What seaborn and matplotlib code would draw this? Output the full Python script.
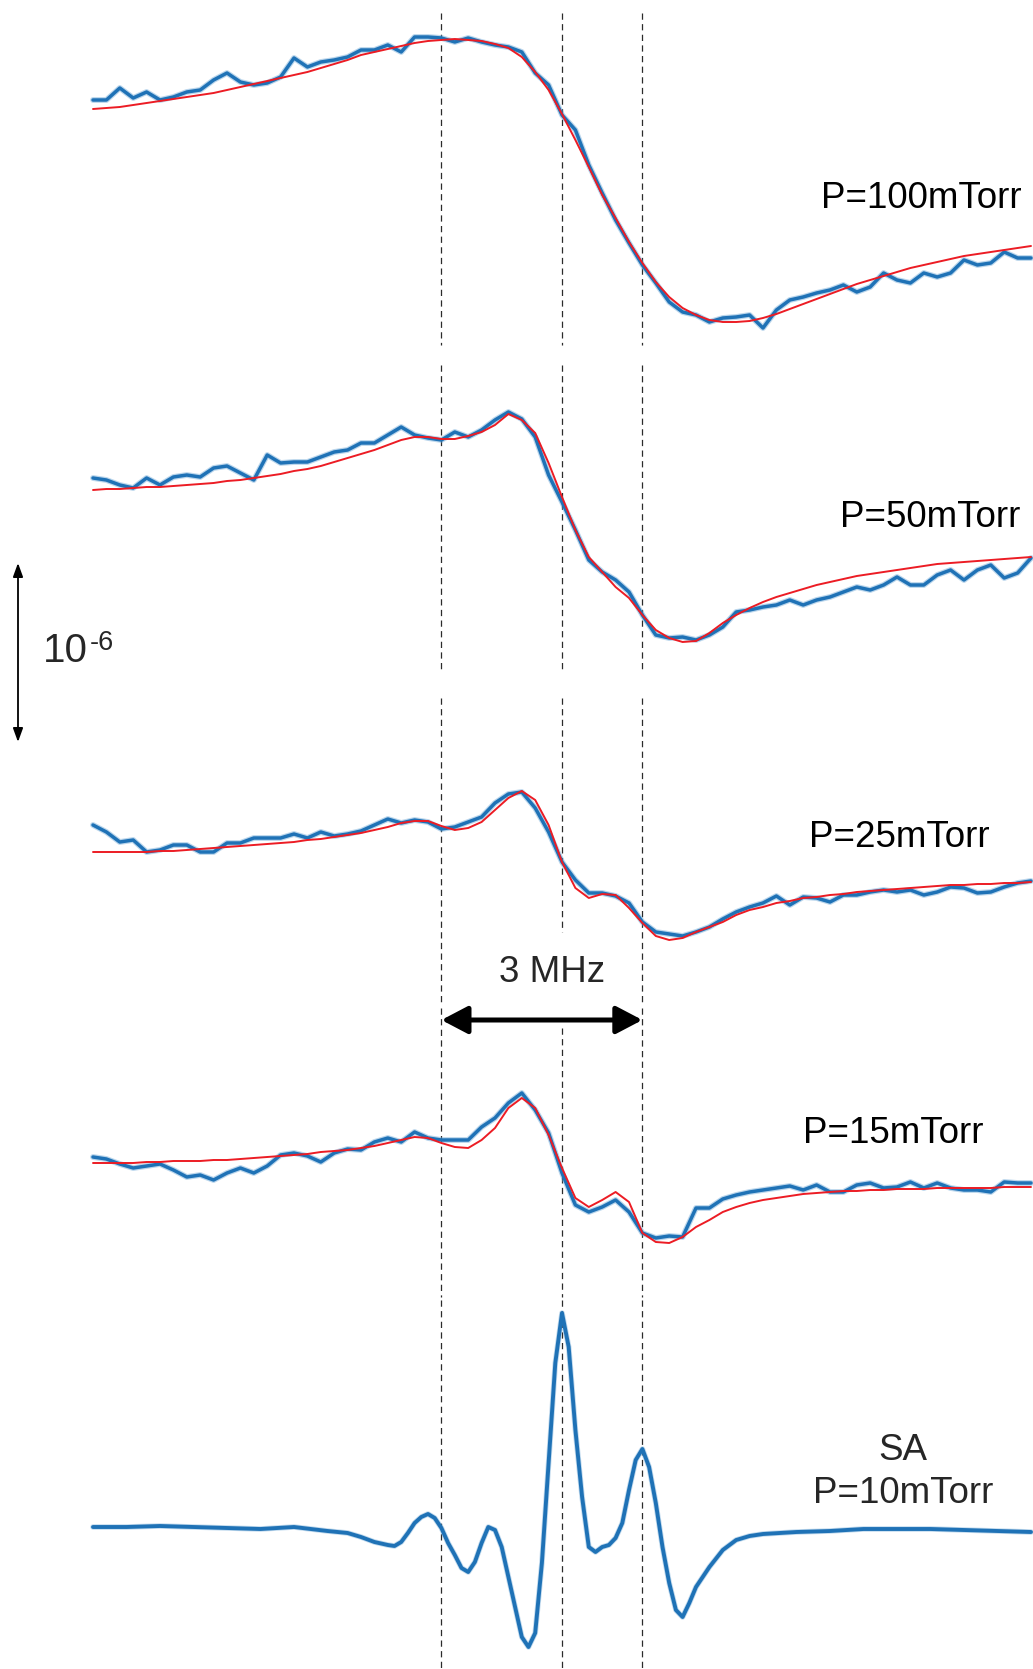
import numpy as np
import matplotlib
matplotlib.use("Agg")
import matplotlib.pyplot as plt
import seaborn as sns

# ---------------- data (signal in a.u.; scale bar 10^-6 = 179 a.u.) ----------------
freq = np.round(np.linspace(-7.0, 7.0, 71), 1)          # detuning, MHz

p100_data = [240, 240, 252, 242, 248, 240, 243, 248, 250, 260,
             267, 258, 255, 257, 263, 282, 273, 278, 280, 283,
             290, 290, 295, 288, 303, 303, 302, 298, 302, 298,
             295, 293, 288, 267, 255,
             225,
             210, 175, 147, 120, 97, 75, 57, 38, 28, 25,
             18, 22, 23, 25, 12, 30, 40, 43, 47, 50,
             55, 48, 53, 67, 60, 57, 67, 63, 67, 80,
             75, 77, 88, 82, 82]
p100_fit = [231, 232, 233, 235, 237, 239, 241, 243, 245, 247,
            250, 253, 256, 259, 262, 265, 268, 272, 276, 280,
            285, 288, 291, 294, 297, 299, 300, 301, 300, 299,
            296, 292, 283, 268, 250,
            226,
            200, 173, 145, 122, 98, 77, 58, 43, 32, 25,
            20, 18, 18, 19, 22, 26, 31, 36, 41, 46,
            51, 56, 60, 64, 68, 72, 75, 78, 81, 84,
            86, 88, 90, 92, 94]

p50_data = [182, 180, 175, 172, 182, 175, 183, 185, 183, 192,
            194, 187, 180, 205, 197, 198, 198, 203, 208, 210,
            217, 217, 225, 233, 225, 222, 220, 228, 223, 230,
            240, 248, 241, 223, 185,
            158,
            130, 100, 88, 80, 68, 45, 25, 22, 23, 20,
            25, 33, 48, 50, 53, 55, 60, 55, 60, 63,
            68, 73, 70, 75, 83, 75, 75, 85, 90, 80,
            90, 95, 82, 87, 102]
p50_fit = [170, 171, 171, 172, 173, 173, 174, 175, 176, 177,
           179, 180, 182, 184, 186, 189, 191, 194, 198, 202,
           206, 210, 215, 220, 223, 223, 221, 221, 224, 228,
           235, 246, 240, 227, 197,
           163,
           130, 103, 88, 73, 62, 45, 30, 22, 18, 19,
           27, 37, 45, 52, 58, 63, 67, 71, 75, 78,
           81, 84, 86, 88, 90, 92, 94, 96, 97, 98,
           99, 100, 101, 102, 103]

p25_data = [135, 128, 118, 120, 108, 110, 115, 115, 108, 108,
            117, 117, 122, 122, 122, 126, 122, 128, 124, 126,
            129, 135, 141, 137, 140, 138, 131, 133, 138, 143,
            157, 166, 168, 152, 128,
            98,
            80, 67, 67, 64, 57, 38, 28, 26, 24, 28,
            33, 41, 48, 53, 57, 64, 55, 63, 62, 58,
            65, 65, 68, 70, 68, 70, 65, 68, 73, 72,
            67, 68, 73, 77, 79]
p25_fit = [108, 108, 108, 108, 108, 109, 109, 110, 111, 112,
           113, 114, 115, 116, 117, 118, 120, 121, 123, 125,
           127, 130, 133, 137, 139, 139, 134, 130, 132, 138,
           150, 162, 169, 160, 135,
           98,
           72, 62, 66, 65, 52, 37, 24, 20, 22, 28,
           33, 38, 45, 50, 53, 57, 59, 62, 63, 65,
           66, 68, 69, 70, 71, 72, 73, 74, 75, 75,
           76, 76, 77, 77, 78]

p15_data = [103, 101, 96, 92, 94, 96, 90, 83, 85, 80,
            87, 92, 87, 94, 105, 107, 104, 98, 107, 111,
            110, 118, 122, 118, 128, 122, 120, 120, 120, 133,
            142, 157, 167, 150, 127,
            87,
            55, 48, 53, 60, 48, 27, 22, 24, 23, 52,
            52, 61, 65, 68, 70, 72, 74, 70, 75, 68,
            68, 75, 77, 72, 73, 78, 72, 77, 72, 70,
            70, 68, 78, 77, 77]
p15_fit = [97, 97, 97, 97, 98, 98, 99, 99, 99, 100,
           100, 101, 102, 103, 104, 105, 106, 108, 109, 110,
           112, 114, 117, 120, 123, 122, 117, 113, 112, 120,
           132, 152, 162, 152, 125,
           92,
           62, 53, 60, 68, 58, 27, 18, 17, 23, 33,
           40, 48, 53, 57, 60, 62, 64, 66, 67, 68,
           69, 69, 70, 70, 71, 71, 71, 72, 72, 72,
           72, 72, 73, 73, 73]

sa_freq = [-7.0, -6.5, -6.0, -5.5, -5.0, -4.5, -4.0, -3.5, -3.2, -3.0,
           -2.8, -2.6, -2.5, -2.4, -2.3, -2.2, -2.1, -2.0, -1.9, -1.8,
           -1.7, -1.6, -1.5, -1.4, -1.3, -1.2, -1.1, -1.0, -0.9, -0.8,
           -0.7, -0.6, -0.5, -0.4, -0.3, -0.2, -0.1, 0.0, 0.1, 0.2,
           0.3, 0.4, 0.5, 0.6, 0.7, 0.8, 0.9, 1.0, 1.1, 1.2,
           1.3, 1.4, 1.5, 1.6, 1.7, 1.8, 1.9, 2.0, 2.2, 2.4,
           2.6, 2.8, 3.0, 3.5, 4.0, 4.5, 5.0, 5.5, 6.0, 6.5, 7.0]
sa_data = [133, 133, 134, 133, 132, 131, 133, 129, 127, 123,
           118, 115, 114, 118, 127, 137, 143, 146, 142, 132,
           117, 105, 92, 88, 98, 117, 133, 130, 113, 83,
           53, 23, 13, 27, 97, 197, 297, 347, 313, 230,
           163, 113, 108, 113, 115, 122, 137, 170, 200, 211,
           193, 157, 113, 77, 50, 43, 57, 73, 93, 110,
           120, 124, 126, 128, 129, 131, 131, 131, 130, 129, 128]

labels = ["P=100mTorr", "P=50mTorr", "P=25mTorr", "P=15mTorr"]
line_markers = [-1.8, 0.0, 1.2]          # MHz, dashed guide lines
scale_label = "10"
scale_exp = "-6"
span_label = "3 MHz"

# ---------------- layout ----------------
W, H = 1033, 1669
def X(px):
    return (px - 562) / 67.0
def Y(py):
    return H - py

offsets = [Y(340), Y(660), Y(960), Y(1260)]
sa_offset = Y(1660)

sns.set_theme(style="white")
plt.rcParams["font.family"] = ["Liberation Sans", "DejaVu Sans"]

fig = plt.figure(figsize=(W / 100, H / 100), dpi=100)
ax = fig.add_axes([0, 0, 1, 1])
ax.set_xlim(X(0), X(W))
ax.set_ylim(0, H)
ax.axis("off")

BLUE = "#1f72b6"
HALO = "#6aa6d6"
RED = "#ec1c24"

# dashed guide lines, drawn as separate segments per panel
segments = [(13, 345), (365, 673), (698, 1005), (1008, 1297), (1300, 1669)]
for xm in line_markers:
    for k, (t, b) in enumerate(segments):
        if xm == 0.0 and k == 2:
            b = 932
        if xm == 0.0 and k == 3:
            t = 1028
        ax.plot([xm, xm], [Y(t), Y(b)], color="#2b2b2b", lw=0.9,
                dashes=(5, 3.5), zorder=1)

datas = [p100_data, p50_data, p25_data, p15_data]
fits = [p100_fit, p50_fit, p25_fit, p15_fit]
for d, f, off in zip(datas, fits, offsets):
    yd = np.array(d, dtype=float) + off
    yf = np.array(f, dtype=float) + off
    sns.lineplot(x=freq, y=yd, ax=ax, color=HALO, lw=4.2, alpha=0.45,
                 estimator=None, sort=False, zorder=2)
    sns.lineplot(x=freq, y=yd, ax=ax, color=BLUE, lw=2.5,
                 estimator=None, sort=False, zorder=3)
    sns.lineplot(x=freq, y=yf, ax=ax, color=RED, lw=1.4,
                 estimator=None, sort=False, zorder=4)

ysa = np.array(sa_data, dtype=float) + sa_offset
sns.lineplot(x=np.array(sa_freq), y=ysa, ax=ax, color=HALO, lw=4.0, alpha=0.4,
             estimator=None, sort=False, zorder=2)
sns.lineplot(x=np.array(sa_freq), y=ysa, ax=ax, color=BLUE, lw=2.8,
             estimator=None, sort=False, zorder=3)
for ln in ax.get_lines():
    ln.set_solid_joinstyle("round")
    ln.set_solid_capstyle("round")

# labels
fs = 26.5
label_pos = [(1022, 208), (1020, 527), (990, 847), (983, 1143)]
for txt, (px, py) in zip(labels, label_pos):
    ax.text(X(px), Y(py), txt, ha="right", va="baseline", fontsize=fs,
            color="black")
ax.text(X(903), Y(1460), "SA", ha="center", va="baseline", fontsize=fs)
ax.text(X(903), Y(1503), "P=10mTorr", ha="center", va="baseline", fontsize=fs)

# 3 MHz span arrow
ax.text(X(552), Y(982), span_label, ha="center", va="baseline", fontsize=fs)
ax.annotate("", xy=(line_markers[2], Y(1020)), xytext=(line_markers[0], Y(1020)),
            arrowprops=dict(arrowstyle="<|-|>,head_length=0.8,head_width=0.42",
                            lw=3.6, color="black", shrinkA=0, shrinkB=0,
                            mutation_scale=20), zorder=5)

# vertical scale bar
ax.annotate("", xy=(X(18), Y(563)), xytext=(X(18), Y(742)),
            arrowprops=dict(arrowstyle="<|-|>,head_length=0.55,head_width=0.2",
                            lw=1.3, color="black", shrinkA=0, shrinkB=0,
                            mutation_scale=15))
ax.text(X(43), Y(662), scale_label, ha="left", va="baseline", fontsize=29)
ax.text(X(90), Y(650), scale_exp, ha="left", va="baseline", fontsize=19.5)

fig.savefig("out.png", dpi=100, facecolor="white")
